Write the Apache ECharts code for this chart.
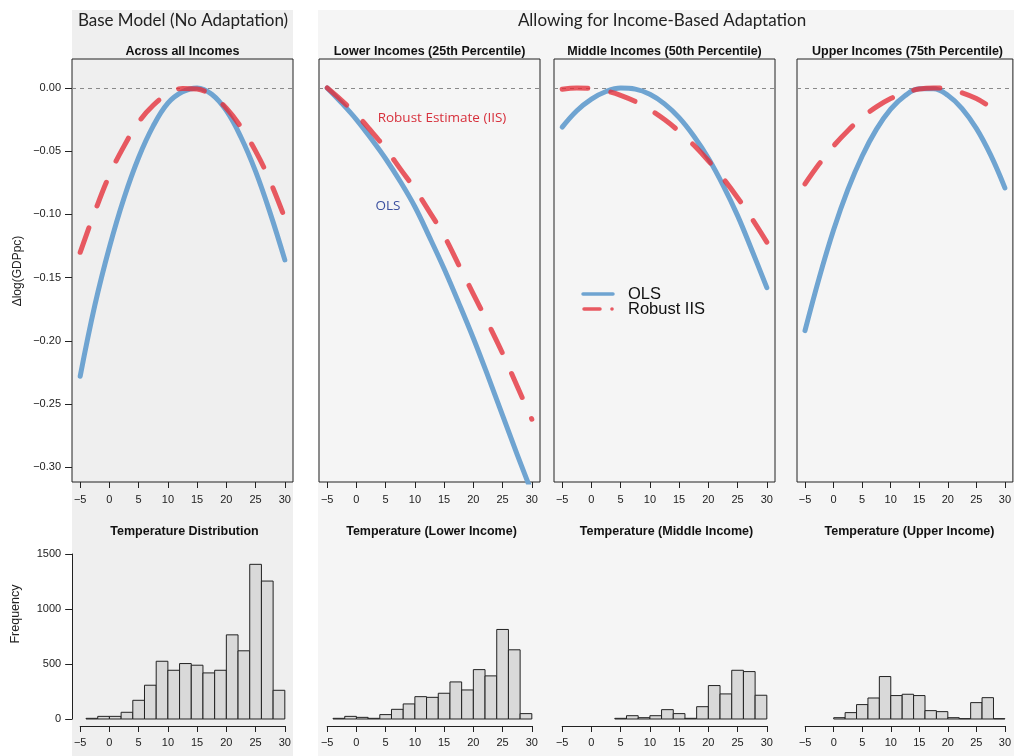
<!DOCTYPE html>
<html><head><meta charset="utf-8">
<script src="https://cdn.jsdelivr.net/npm/echarts@6/dist/echarts.min.js"></script>
<style>html,body{margin:0;padding:0;background:#fff}#c{width:1014px;height:756px}</style>
</head><body><div id="c"></div><script>
// ---------- data ----------
const temps = [-5,-2.5,0,2.5,5,7.5,10,12.5,15,17.5,20,22.5,25,27.5,30];
const olsAll = [-0.228,-0.172,-0.126,-0.087,-0.055,-0.030,-0.012,-0.003,0,-0.005,-0.018,-0.039,-0.066,-0.099,-0.136];
const iisAll = [-0.130,-0.098,-0.069,-0.046,-0.027,-0.0137,-0.0047,-0.0004,-0.0009,-0.0061,-0.016,-0.031,-0.050,-0.074,-0.103];
const olsLow = [0,-0.012,-0.025,-0.040,-0.056,-0.074,-0.094,-0.118,-0.143,-0.170,-0.198,-0.228,-0.259,-0.290,-0.320];
const iisLow = [0,-0.010,-0.021,-0.034,-0.048,-0.064,-0.080,-0.098,-0.117,-0.140,-0.163,-0.186,-0.210,-0.236,-0.262];
const olsMid = [-0.031,-0.018,-0.0088,-0.0028,-0.0001,-0.0009,-0.005,-0.0126,-0.0235,-0.038,-0.0556,-0.0768,-0.101,-0.129,-0.158];
const iisMid = [-0.0011,0,-0.0005,-0.0024,-0.0058,-0.0107,-0.0171,-0.025,-0.0344,-0.0452,-0.0576,-0.0714,-0.0868,-0.1037,-0.122];
const olsUp = [-0.192,-0.150,-0.1124,-0.0805,-0.054,-0.0328,-0.0168,-0.0061,-0.0007,-0.0006,-0.0058,-0.0163,-0.032,-0.053,-0.079];
const iisUp = [-0.0759,-0.060,-0.0459,-0.0338,-0.0234,-0.015,-0.0084,-0.0038,-0.0009,0,-0.0009,-0.0038,-0.0084,-0.015,-0.0214];

const binEdges = [-4,-2,0,2,4,6,8,10,12,14,16,18,20,22,24,26,28,30];
const histAll = [6,24,24,61,170,307,525,443,504,489,419,443,765,620,1406,1254,261];
const histLow = [6,24,15,6,40,88,137,203,197,234,337,264,449,392,814,629,49];
const histMid = [null,null,null,null,6,30,12,30,85,49,6,112,304,228,443,431,216];
const histUp  = [null,null,12,58,131,191,386,213,225,213,76,67,12,3,149,194,3];

const xTicks = [-5,0,5,10,15,20,25,30];
const yTicksTop = [0,-0.05,-0.10,-0.15,-0.20,-0.25,-0.30];
const yTicksHist = [0,500,1000,1500];

const mainTitles = ['Base Model (No Adaptation)','Allowing for Income-Based Adaptation'];
const panelTitles = ['Across all Incomes','Lower Incomes (25th Percentile)','Middle Incomes (50th Percentile)','Upper Incomes (75th Percentile)'];
const histTitles = ['Temperature Distribution','Temperature (Lower Income)','Temperature (Middle Income)','Temperature (Upper Income)'];
const seriesNames = ['OLS','Robust IIS'];

// ---------- layout ----------
const BLUE = '#6fa4d1', RED = 'rgba(228,45,55,0.78)';
const topLefts = [72,319,554,797], PW = 221, TOP = 59, PH = 423;
const XMIN = -6.4, XMAX = 31.4, YMIN = -0.3117, YMAX = 0.0229;
const kx = PW/(XMAX-XMIN);
const HTOP = 554, HH = 165;
const FONT = '"Liberation Sans", Arial, sans-serif';

const minus = v => (v<0?'\u2212':'') + Math.abs(v);
const grids = [], xAxes = [], yAxes = [], series = [];
const curves = [[olsAll,iisAll],[olsLow,iisLow],[olsMid,iisMid],[olsUp,iisUp]];
const hists = [histAll,histLow,histMid,histUp];

for (let i=0;i<4;i++){
  grids.push({left:topLefts[i], top:TOP, width:PW, height:PH, show:true, borderColor:'#222', borderWidth:1, backgroundColor:'transparent'});
  xAxes.push({gridIndex:i, type:'value', min:XMIN, max:XMAX,
    axisLine:{show:false, onZero:false},
    axisTick:{show:true, length:6, customValues:xTicks, lineStyle:{color:'#222'}},
    axisLabel:{show:true, customValues:xTicks, formatter:minus, fontSize:11, color:'#222', fontFamily:FONT, margin:12},
    splitLine:{show:false}});
  yAxes.push({gridIndex:i, type:'value', min:YMIN, max:YMAX,
    axisLine:{show:false, onZero:false},
    axisTick:{show:i===0, length:7, customValues:yTicksTop, lineStyle:{color:'#222'}},
    axisLabel:{show:i===0, customValues:yTicksTop, formatter:v=> v===0?'0.00':'\u2212'+Math.abs(v).toFixed(2), fontSize:11, color:'#222', fontFamily:FONT, margin:11},
    splitLine:{show:false}});
  series.push({type:'line', name:seriesNames[0], xAxisIndex:i, yAxisIndex:i,
    data: temps.map((t,j)=>[t,curves[i][0][j]]), showSymbol:false, smooth:0.4, z:3,
    lineStyle:{color:BLUE, width:5, cap:'round', join:'round'},
    markLine:{silent:true, symbol:['none','none'], label:{show:false}, data:[{yAxis:0}],
      lineStyle:{color:'#8a8a8a', width:1, type:[4,4]}, z:1}});
  series.push({type:'line', name:seriesNames[1], xAxisIndex:i, yAxisIndex:i,
    data: temps.map((t,j)=>[t,curves[i][1][j]]), showSymbol:false, smooth:0.4, z:4,
    lineStyle:{color:RED, width:5, type:[26,23], cap:'round', join:'round'}});
}
for (let i=0;i<4;i++){
  const gi = 4+i;
  const hl = topLefts[i] + (-5-XMIN)*kx;
  grids.push({left:hl, top:HTOP, width:35*kx, height:HH, show:false});
  xAxes.push({gridIndex:gi, type:'value', min:-5, max:30, interval:5, offset:7,
    axisLine:{show:true, onZero:false, lineStyle:{color:'#222', width:1}},
    axisTick:{show:true, length:6, customValues:xTicks, lineStyle:{color:'#222'}},
    axisLabel:{show:true, customValues:xTicks, formatter:minus, fontSize:11, color:'#222', fontFamily:FONT, margin:11},
    splitLine:{show:false}});
  yAxes.push({gridIndex:gi, type:'value', min:0, max:1500, interval:500, offset:8,
    axisLine:{show:i===0, onZero:false, lineStyle:{color:'#222', width:1}},
    axisTick:{show:i===0, length:7, customValues:yTicksHist, lineStyle:{color:'#222'}},
    axisLabel:{show:i===0, customValues:yTicksHist, formatter:v=>String(v), fontSize:11, color:'#222', fontFamily:FONT, margin:11},
    splitLine:{show:false}});
  const data = [];
  hists[i].forEach((c,j)=>{ if(c!=null) data.push([binEdges[j], binEdges[j+1], c]); });
  series.push({type:'custom', xAxisIndex:gi, yAxisIndex:gi, data, encode:{x:[0,1], y:2},
    renderItem:(params, api)=>{
      const p0 = api.coord([api.value(0), api.value(2)]);
      const p1 = api.coord([api.value(1), 0]);
      return {type:'rect', shape:{x:p0[0], y:p0[1], width:p1[0]-p0[0], height:p1[1]-p0[1]},
        style:{fill:'#d9d9d9', stroke:'#222', lineWidth:1}};
    }});
}

// ---------- decorations ----------
const txt = (x,y,text,font,fill,extra,align) => Object.assign({type:'text', x, y, z:100, silent:true,
  style:{text, font, fill, align:align||'center', verticalAlign:'middle', textAlign:align||'center', textVerticalAlign:'middle'}}, extra||{});
const graphic = [
  {type:'rect', z:-100, silent:true, shape:{x:72,y:10,width:221,height:746}, style:{fill:'#efefef'}},
  {type:'rect', z:-100, silent:true, shape:{x:318,y:10,width:696,height:746}, style:{fill:'#f5f5f5'}},
  txt(183,21,mainTitles[0],'17px Lato, "Open Sans", sans-serif','#222'),
  txt(662,21,mainTitles[1],'17px Lato, "Open Sans", sans-serif','#222'),
  txt(18,271,'\u0394log(GDPpc)','12px '+FONT,'#222',{rotation:Math.PI/2}),
  txt(16,614,'Frequency','12.5px '+FONT,'#222',{rotation:Math.PI/2}),
  txt(442,118,'Robust Estimate (IIS)','13.5px "Open Sans", Lato, sans-serif','#d7303c'),
  txt(388,206,'OLS','13.5px "Open Sans", Lato, sans-serif','#3a4f9f'),
  {type:'line', z:100, silent:true, shape:{x1:583,y1:294,x2:613,y2:294}, style:{stroke:BLUE, lineWidth:3.5, lineCap:'round'}},
  {type:'line', z:100, silent:true, shape:{x1:584,y1:309,x2:600,y2:309}, style:{stroke:RED, lineWidth:3.5, lineCap:'round'}},
  {type:'circle', z:100, silent:true, shape:{cx:612,cy:309,r:1.8}, style:{fill:RED}},
  txt(628,294,seriesNames[0],'16.5px '+FONT,'#111',null,'left'),
  txt(628,309,seriesNames[1],'16.5px '+FONT,'#111',null,'left')
];
for (let i=0;i<4;i++){
  const cx = topLefts[i] + PW/2;
  graphic.push(txt(cx,51.5,panelTitles[i],'bold 12.5px '+FONT,'#111'));
  graphic.push(txt(cx+2,531.5,histTitles[i],'bold 12.5px '+FONT,'#111'));
}

const chart = echarts.init(document.getElementById('c'), null, {renderer:'canvas'});
chart.setOption({animation:false, backgroundColor:'#ffffff', grid:grids, xAxis:xAxes, yAxis:yAxes, series, graphic});
</script></body></html>
